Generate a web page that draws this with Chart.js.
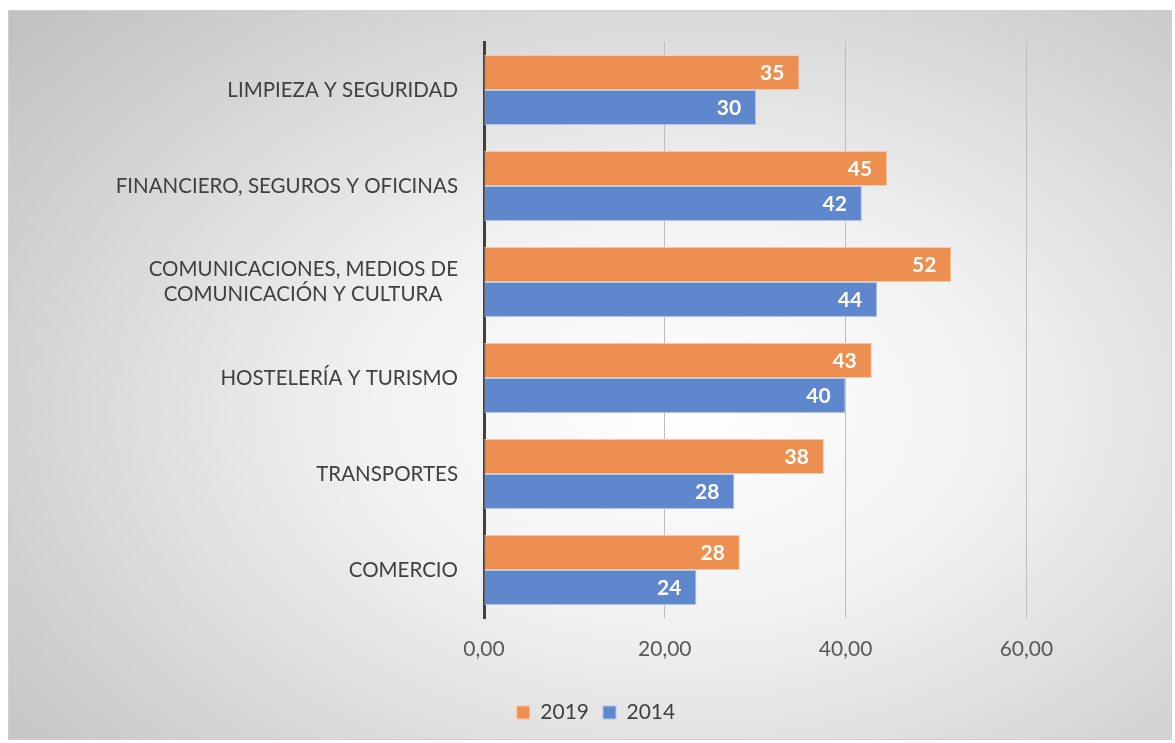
<!DOCTYPE html>
<html>
<head>
<meta charset="utf-8">
<script src="https://cdn.jsdelivr.net/npm/chart.js@4/dist/chart.umd.min.js"></script>
<style>
    html, body { margin: 0; padding: 0; background: #ffffff; }
    .card {
        position: absolute;
        left: 8px; top: 10px;
        width: 1164px; height: 730px;
        box-sizing: border-box;
        border: 1px solid #d0d0d0;
        background: radial-gradient(ellipse 75% 80% at 58% 55%, #ffffff 0%, #f2f2f2 35%, #c2c2c2 100%);
    }
</style>
</head>
<body>
<div class="card"><canvas id="barChart" width="1162" height="728"></canvas></div>

<script>
// categories, top to bottom
const categories = [
    'LIMPIEZA Y SEGURIDAD',
    'FINANCIERO, SEGUROS Y OFICINAS',
    ['COMUNICACIONES, MEDIOS DE', 'COMUNICACIÓN Y CULTURA   '],
    'HOSTELERÍA Y TURISMO',
    'TRANSPORTES',
    'COMERCIO'
];
const values2019 = [34.9, 44.6, 51.7, 42.9, 37.6, 28.3];
const values2014 = [30.1, 41.8, 43.5, 40.0, 27.7, 23.5];
const xTicks = [0, 20, 40, 60];

const FONT = 'Lato, "Open Sans", sans-serif';

// draws the rounded value at the inner end of each bar
const barValueLabels = {
    id: 'barValueLabels',
    afterDatasetsDraw(chart) {
        const ctx = chart.ctx;
        ctx.save();
        ctx.font = 'bold 21px ' + FONT;
        ctx.fillStyle = '#ffffff';
        ctx.textAlign = 'right';
        ctx.textBaseline = 'middle';
        chart.data.datasets.forEach((ds, i) => {
            chart.getDatasetMeta(i).data.forEach((bar, j) => {
                ctx.fillText(Math.round(ds.data[j]).toString(), bar.x - 15, bar.y + 1);
            });
        });
        ctx.restore();
    }
};

const ctx = document.getElementById('barChart').getContext('2d');
new Chart(ctx, {
    type: 'bar',
    data: {
        labels: categories,
        datasets: [
            {
                label: '2019',
                data: values2019,
                backgroundColor: '#ee8f52',
                borderColor: '#f7c8a8',
                borderWidth: 1,
                borderSkipped: false,
                categoryPercentage: 0.73,
                barPercentage: 1.0
            },
            {
                label: '2014',
                data: values2014,
                backgroundColor: '#5f87cd',
                borderColor: '#b3c6ea',
                borderWidth: 1,
                borderSkipped: false,
                categoryPercentage: 0.73,
                barPercentage: 1.0
            }
        ]
    },
    options: {
        indexAxis: 'y',
        responsive: false,
        animation: false,
        layout: { padding: { left: 12, right: 0, top: 31, bottom: 6 } },
        scales: {
            x: {
                min: 0,
                max: 76,
                afterBuildTicks: (axis) => {
                    axis.ticks = xTicks.map(v => ({ value: v }));
                },
                afterFit: (axis) => { axis.height = 70; },
                grid: {
                    color: '#bdbdbd',
                    lineWidth: 1,
                    drawTicks: false
                },
                border: { display: false },
                ticks: {
                    padding: 19,
                    color: '#595959',
                    font: { family: FONT, size: 21 },
                    callback: (v) => v.toFixed(2).replace('.', ',')
                }
            },
            y: {
                afterFit: (axis) => { axis.width = 463; },
                grid: { display: false },
                border: { display: true, color: '#404040', width: 3 },
                ticks: {
                    padding: 18,
                    color: '#404040',
                    font: { family: FONT, size: 20.5 }
                }
            }
        },
        plugins: {
            legend: {
                display: true,
                position: 'bottom',
                labels: {
                    boxWidth: 13,
                    boxHeight: 13,
                    padding: 14,
                    color: '#404040',
                    font: { family: FONT, size: 21 }
                }
            },
            tooltip: { enabled: false }
        }
    },
    plugins: [barValueLabels]
});
</script>
</body>
</html>
